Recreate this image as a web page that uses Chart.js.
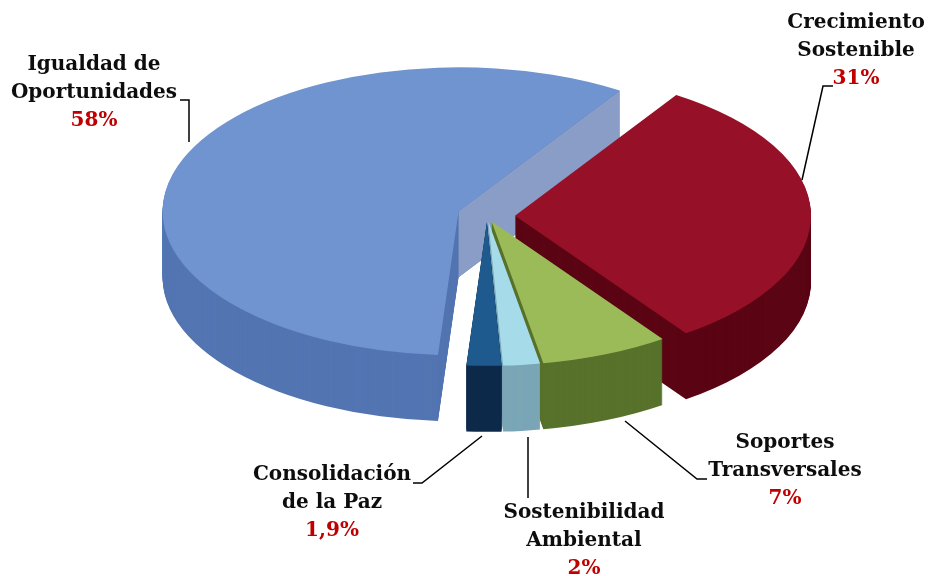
<!DOCTYPE html>
<html>
<head>
<meta charset="utf-8">
<script src="https://cdn.jsdelivr.net/npm/chart.js@4.4.1/dist/chart.umd.min.js"></script>
<style>
  html, body { margin: 0; padding: 0; background: #fff; }
  #wrap { width: 930px; height: 576px; }
</style>
</head>
<body>
<div id="wrap"><canvas id="chart" width="930" height="576"></canvas></div>
<script>
const categories = ["Crecimiento Sostenible", "Soportes Transversales", "Sostenibilidad Ambiental", "Consolidación de la Paz", "Igualdad de Oportunidades"];
const values = [31, 7, 2, 1.9, 58];
const pctLabels = ["31%", "7%", "2%", "1,9%", "58%"];

const topColors = ["#961127", "#9bbb59", "#a6dcea", "#1f5a8e", "#7094d0"];
const sideColors = ["#5a0414", "#58722b", "#7aa6b6", "#0e2a4a", "#5375b2"];
const cutColors = ["#5a0414", "#58722b", "#7aa6b6", "#0e2a4a", "#8a9dc6"];
const explodePx = [28, 12, 12, 12, 30];

// screen placement of the tilted pie
const view = { cx: 487, cy: 216, rx: 296, ry: 144, depth: 66 };

// label text blocks (centre x, first line y) and leader lines
const labelPos = [
  { x: 856, y: 23, lines: ["Crecimiento", "Sostenible"], leader: [[833, 86], [823, 86], [802, 180]] },
  { x: 785, y: 443, lines: ["Soportes", "Transversales"], leader: [[707, 479], [697, 479], [625, 421]] },
  { x: 584, y: 513, lines: ["Sostenibilidad", "Ambiental"], leader: [[528, 498], [528, 437]] },
  { x: 332, y: 475, lines: ["Consolidación", "de la Paz"], leader: [[413, 483], [422, 483], [482, 436]] },
  { x: 94, y: 65, lines: ["Igualdad de", "Oportunidades"], leader: [[180, 100], [189, 100], [189, 142]] }
];

const pie3d = {
  id: "pie3d",
  beforeDatasetsDraw(chart) {
    const ctx = chart.ctx;
    const arcs = chart.getDatasetMeta(0).data;
    const R = arcs[0].outerRadius, px = arcs[0].x, py = arcs[0].y;
    const sx = view.rx / R, sy = view.ry / R;
    const mids = arcs.map((arc) => (arc.startAngle + arc.endAngle) / 2);
    const shift = mids.map((m, i) => [Math.cos(m) * explodePx[i], Math.sin(m) * explodePx[i] * view.ry / view.rx]);
    const place = (i, dy) => {
      ctx.translate(view.cx + shift[i][0], view.cy + shift[i][1] + dy);
      ctx.scale(sx, sy);
      ctx.translate(-px, -py);
    };
    const drawAs = (arc, color) => {
      const saved = arc.options;
      arc.options = Object.assign({}, saved, { backgroundColor: color, borderColor: color, borderWidth: 0 });
      arc.draw(ctx);
      arc.options = saved;
    };
    // back slices first so front walls cover them
    const order = arcs.map((a, i) => i).sort((a, b) => Math.sin(mids[a]) - Math.sin(mids[b]));
    order.forEach((i) => {
      const arc = arcs[i];
      for (let d = view.depth; d > 0; d--) {
        ctx.save();
        place(i, d);
        drawAs(arc, sideColors[i]);
        ctx.restore();
      }
      // radial cut face at the end edge when it faces the viewer
      const a = arc.endAngle;
      if (Math.sin(a) < -0.2 && Math.cos(a) > 0.5) {
        const ox = view.cx + shift[i][0], oy = view.cy + shift[i][1];
        const ex = ox + Math.cos(a) * view.rx, ey = oy + Math.sin(a) * view.ry;
        ctx.save();
        ctx.fillStyle = cutColors[i];
        ctx.beginPath();
        ctx.moveTo(ox, oy);
        ctx.lineTo(ex, ey);
        ctx.lineTo(ex, ey + view.depth);
        ctx.lineTo(ox, oy + view.depth);
        ctx.closePath();
        ctx.fill();
        ctx.restore();
      }
    });
    // top faces
    arcs.forEach((arc, i) => {
      ctx.save();
      place(i, 0);
      drawAs(arc, topColors[i]);
      ctx.restore();
    });
    return false;
  }
};

const pieLabels = {
  id: "pieLabels",
  afterDraw(chart) {
    const ctx = chart.ctx;
    ctx.save();
    ctx.strokeStyle = "#000";
    ctx.lineWidth = 1.5;
    labelPos.forEach((p) => {
      ctx.beginPath();
      p.leader.forEach((pt, k) => (k ? ctx.lineTo(pt[0], pt[1]) : ctx.moveTo(pt[0], pt[1])));
      ctx.stroke();
    });
    ctx.font = "bold 20px 'DejaVu Serif'";
    ctx.textAlign = "center";
    ctx.textBaseline = "middle";
    labelPos.forEach((p, i) => {
      ctx.fillStyle = "#0d0d0d";
      p.lines.forEach((t, k) => ctx.fillText(t, p.x, p.y + k * 28));
      ctx.fillStyle = "#c00000";
      ctx.fillText(pctLabels[i], p.x, p.y + p.lines.length * 28);
    });
    ctx.restore();
  }
};

new Chart(document.getElementById("chart"), {
  type: "pie",
  data: {
    labels: categories,
    datasets: [{
      data: values,
      backgroundColor: topColors,
      borderWidth: 0
    }]
  },
  options: {
    responsive: false,
    animation: false,
    rotation: 33,
    layout: { padding: 0 },
    plugins: {
      legend: { display: false },
      tooltip: { enabled: false }
    }
  },
  plugins: [pie3d, pieLabels]
});
</script>
</body>
</html>
